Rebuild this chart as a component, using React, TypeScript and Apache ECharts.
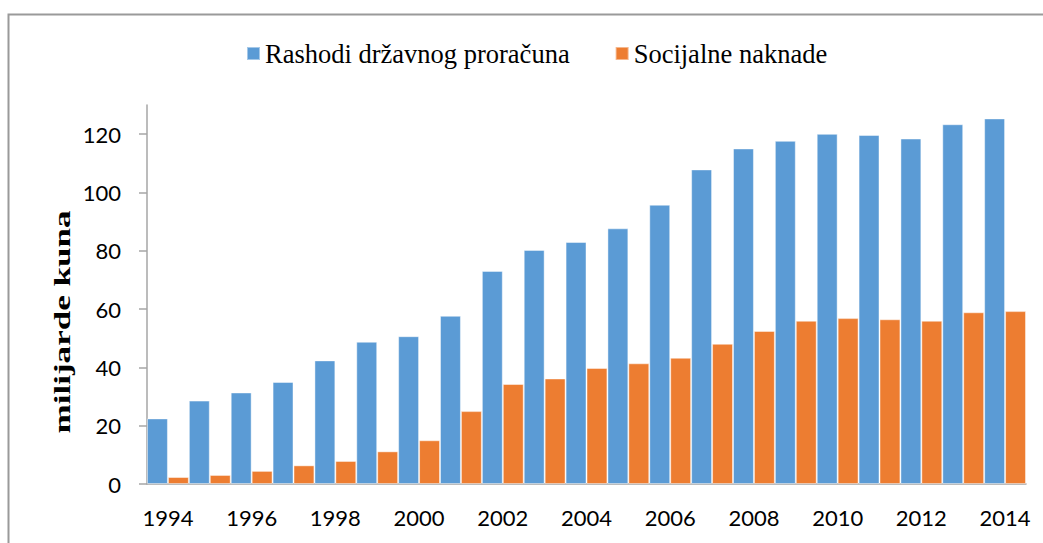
import React, { useEffect, useRef } from "react";
import * as echarts from "echarts";

const years = ["1994","1995","1996","1997","1998","1999","2000","2001","2002","2003","2004","2005","2006","2007","2008","2009","2010","2011","2012","2013","2014"];
const rashodi = [22.5, 28.6, 31.4, 35.0, 42.4, 48.8, 50.7, 57.7, 73.1, 80.3, 83.0, 87.7, 95.8, 107.9, 115.1, 117.7, 120.1, 119.7, 118.5, 123.4, 125.4];
const socijalne = [2.4, 3.1, 4.5, 6.4, 7.9, 11.2, 15.0, 25.0, 34.3, 36.2, 39.8, 41.4, 43.3, 48.1, 52.5, 56.0, 56.9, 56.5, 56.0, 58.9, 59.3];
const yTicks = [0, 20, 40, 60, 80, 100, 120];
const seriesNames = ["Rashodi državnog proračuna", "Socijalne naknade"];
const yTitle = "milijarde kuna";

export default function App() {
  const ref = useRef<HTMLDivElement>(null);
  useEffect(() => {
    if (!ref.current) return;
    const chart = echarts.init(ref.current, null, { renderer: "svg" });
    const axisGrey = "#a6a6a6";
    chart.setOption({
      animation: false,
      backgroundColor: "#ffffff",
      legend: {
        left: 246,
        top: 40,
        padding: 0,
        itemWidth: 13,
        itemHeight: 13,
        itemGap: 45,
        icon: "rect",
        textStyle: { fontFamily: "Liberation Serif", fontSize: 26.5, color: "#000" },
        data: seriesNames,
      },
      grid: { left: 147, right: 17, top: 105, bottom: 59, containLabel: false },
      xAxis: {
        type: "category",
        data: years,
        axisLine: { lineStyle: { color: axisGrey, width: 1.5 } },
        axisTick: { show: false },
        axisLabel: {
          interval: 1,
          margin: 22,
          fontFamily: "Lato",
          fontSize: 22,
          color: "#000",
        },
      },
      yAxis: {
        type: "value",
        min: 0,
        max: 130,
        interval: 10,
        axisLine: { show: true, lineStyle: { color: axisGrey, width: 1.5 } },
        axisTick: { show: true, length: 8, lineStyle: { color: axisGrey, width: 1.5 }, customValues: yTicks },
        axisLabel: {
          margin: 26,
          fontFamily: "Lato",
          fontSize: 22,
          color: "#000",
          customValues: yTicks,
        },
        splitLine: { show: false },
      },
      series: [
        {
          name: seriesNames[0],
          type: "bar",
          data: rashodi,
          barGap: "0%",
          barCategoryGap: "0%",
          itemStyle: { color: "#5b9bd5", borderColor: "rgba(255,255,255,0.45)", borderWidth: 1 },
        },
        {
          name: seriesNames[1],
          type: "bar",
          data: socijalne,
          barGap: "0%",
          barCategoryGap: "0%",
          itemStyle: { color: "#ed7d31", borderColor: "rgba(255,255,255,0.45)", borderWidth: 1 },
        },
      ],
      graphic: [
        {
          type: "rect",
          shape: { x: 8.5, y: 14.5, width: 1100, height: 600 },
          style: { fill: "none", stroke: "#9a9a9a", lineWidth: 2 },
          silent: true,
        },
        {
          type: "text",
          x: 62,
          y: 322,
          rotation: Math.PI / 2,
          scaleX: 1.46,
          style: {
            text: yTitle,
            fontFamily: "Liberation Serif",
            fontWeight: "bold",
            fontSize: 24,
            fill: "#000",
            align: "center",
            verticalAlign: "middle",
          },
        },
      ],
    });
    return () => chart.dispose();
  }, []);
  return (
    <div
      ref={ref}
      style={{ position: "fixed", left: 0, top: 0, width: 1043, height: 543 }}
    />
  );
}
